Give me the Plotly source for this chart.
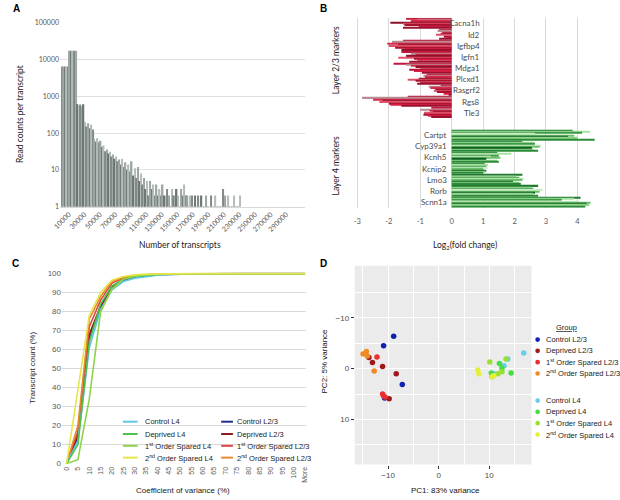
import plotly.graph_objects as go

W, H = 620, 500
def fx(p): return p / W
def fy(p): return 1 - p / H

# ---------------- Panel A data ----------------
read_counts = [
    6500, 6500, 6500, 6500, 6500,
    17500, 17500, 17500, 17500, 17500,
    620, 560, 600, 540, 610,
    200, 150, 185, 135, 170,
    125, 68, 58, 72, 55,
    62, 42, 46, 32, 36,
    28, 31, 23, 26, 20,
    23, 17, 19, 14, 20,
    12, 16, 10, 14, 9,
    17, 7, 11, 6, 12,
    5, 8, 4, 6, 3,
    5, 2, 5, 3, 4,
    2, 4, 2, 3, 2,
    4, 2, 2, 3, 2,
    1, 3, 2, 2, 3,
    2, 1, 3, 2, 4,
    2, 2, 1, 2, 2,
    1, 2, 1, 2, 1,
    2, 1, 1, 2, 1,
    1, 2, 1, 1, 2,
    1, 1, 1, 1, 3,
    2, 1, 2, 1, 1,
    1, 2, 1, 1, 1, 2,
]
transcripts_per_bar = 2000
a_x_ticks = [10000, 30000, 50000, 70000, 90000, 110000, 130000, 150000,
             170000, 190000, 210000, 230000, 250000, 270000, 290000]
a_x_labels = ["10000", "30000", "50000", "70000", "90000", "110000", "130000", "150000",
              "170000", "190000", "210000", "230000", "250000", "270000", "290000"]
a_y_ticks = [1, 10, 100, 1000, 10000, 100000]
a_y_labels = ["1", "10", "100", "1000", "10000", "100000"]

# ---------------- Panel B data ----------------
genes = ["Cacna1h", "Id2", "Igfbp4", "Igfn1", "Mdga1", "Plcxd1", "Rasgrf2", "Rgs8", "Tle3",
         "Cartpt", "Cyp39a1", "Kcnh5", "Kcnip2", "Lmo3", "Rorb", "Scnn1a"]
gene_layer = ["L2/3"] * 9 + ["L4"] * 7
log2_fold_change = [
    [-1.45, -1.10, -1.30, -1.95, -1.55, -1.50, -1.05, -1.55],  # Cacna1h
    [-0.40, -0.45, -0.30, -0.35, -0.50, -0.25, -0.15, -0.40],  # Id2
    [-1.55, -1.90, -2.05, -1.70, -2.00, -1.80, -1.50, -1.60],  # Igfbp4
    [-1.60, -1.30, -1.15, -1.45, -1.70, -1.20, -1.10, -1.35],  # Igfn1
    [-1.85, -1.45, -1.30, -1.15, -1.00, -1.35, -1.20, -0.95],  # Mdga1
    [-0.80, -0.90, -0.85, -1.05, -1.40, -1.15, -1.00, -1.10],  # Plcxd1
    [-0.35, -0.73, -0.68, -0.52, -0.57, -0.47, -0.26, -0.10],  # Rasgrf2
    [-1.40, -2.85, -2.50, -2.20, -2.30, -2.00, -1.95, -1.60],  # Rgs8
    [-0.65, -1.00, -0.70, -0.60, -0.88, -0.90, -0.75, -0.65],  # Tle3
    [3.85, 4.40, 4.15, 2.65, 3.90, 3.70, 4.00, 4.55],          # Cartpt
    [2.25, 2.60, 2.65, 2.85, 2.80, 2.55, 2.60, 2.75],          # Cyp39a1
    [1.45, 1.90, 1.50, 1.25, 1.55, 1.10, 1.45, 1.50],          # Kcnh5
    [1.05, 1.15, 1.10, 1.15, 1.00, 1.10, 1.08, 1.00],          # Kcnip2
    [2.25, 2.05, 2.15, 2.30, 2.25, 1.95, 2.15, 2.20],          # Lmo3
    [2.75, 2.55, 2.60, 2.90, 2.80, 2.65, 2.60, 2.75],          # Rorb
    [4.10, 3.90, 3.50, 4.05, 4.42, 4.30, 4.38, 4.25],          # Scnn1a
]
b_x_ticks = [-3, -2, -1, 0, 1, 2, 3, 4]
b_x_labels = ["-3", "-2", "-1", "0", "1", "2", "3", "4"]

# ---------------- Panel C data ----------------
cv_bins = ["0", "5", "10", "15", "20", "25", "30", "35", "40", "45", "50", "55",
           "60", "65", "70", "75", "80", "85", "90", "95", "100", "More"]
c_control_l4 = [0, 12, 61, 81, 91.5, 95.8, 97.6, 98.6, 99.2, 99.5, 99.7, 99.8, 99.88, 99.93, 99.96, 99.98, 99.99, 100, 100, 100, 100, 100]
c_deprived_l4 = [0, 10, 64, 84, 93.5, 97, 98.5, 99.2, 99.6, 99.8, 99.9, 99.95, 99.97, 99.98, 99.99, 100, 100, 100, 100, 100, 100, 100]
c_first_l4 = [0, 2, 34, 80, 92, 97, 98.6, 99.3, 99.6, 99.8, 99.9, 99.95, 99.97, 99.98, 99.99, 100, 100, 100, 100, 100, 100, 100]
c_second_l4 = [0, 38, 78, 90, 96.5, 98.5, 99.3, 99.7, 99.85, 99.92, 99.96, 99.98, 99.99, 100, 100, 100, 100, 100, 100, 100, 100, 100]
c_control_l23 = [0, 14, 66, 82, 93, 96.5, 98.2, 99.0, 99.4, 99.6, 99.75, 99.85, 99.9, 99.94, 99.97, 99.98, 99.99, 100, 100, 100, 100, 100]
c_deprived_l23 = [0, 15, 68, 83, 93, 96.8, 98.4, 99.1, 99.5, 99.7, 99.8, 99.88, 99.92, 99.95, 99.97, 99.98, 99.99, 100, 100, 100, 100, 100]
c_first_l23 = [0, 17, 72, 86, 95, 97.5, 98.8, 99.4, 99.7, 99.85, 99.9, 99.95, 99.97, 99.98, 99.99, 100, 100, 100, 100, 100, 100, 100]
c_second_l23 = [0, 20, 76, 88, 96, 98, 99, 99.5, 99.8, 99.9, 99.95, 99.97, 99.98, 99.99, 100, 100, 100, 100, 100, 100, 100, 100]
c_y_ticks = [0, 10, 20, 30, 40, 50, 60, 70, 80, 90, 100]

# ---------------- Panel D data ----------------
d_control_l23_pc1 = [-8.9, -10.9, -7.2, -10.7]
d_control_l23_pc2 = [-6.4, -4.5, 3.1, 5.8]
d_deprived_l23_pc1 = [-13.8, -13.1, -11.1, -8.4, -9.8]
d_deprived_l23_pc2 = [-2.2, -1.2, -0.45, 1.0, 5.95]
d_first_l23_pc1 = [-12.2, -11.1, -10.9, -10.6]
d_first_l23_pc2 = [-2.3, 5.0, 5.4, 5.6]
d_second_l23_pc1 = [-14.95, -14.3, -14.1, -12.75]
d_second_l23_pc2 = [-2.9, -3.4, -2.5, 0.45]
d_control_l4_pc1 = [16.8, 13.65, 12.9, 10.9]
d_control_l4_pc2 = [-3.1, -1.9, -0.6, 1.0]
d_deprived_l4_pc1 = [12.0, 12.5, 14.3, 10.4, 10.5]
d_deprived_l4_pc2 = [-1.0, -0.15, 0.85, 0.85, 1.6]
d_first_l4_pc1 = [10.1, 11.7, 12.5, 13.3]
d_first_l4_pc2 = [-1.3, 1.0, 0.6, -1.9]
d_second_l4_pc1 = [7.7, 7.96, 10.5, 10.9]
d_second_l4_pc2 = [0.25, 1.0, 1.6, 1.4]
d_ticks = [-10, 0, 10]
d_tick_labels = ["\u221210", "0", "10"]
d_minor_ticks = [-15, -5, 5, 15]

# ---------------- Styles ----------------
FONT_AB = "Lato"
FONT_CD = "Liberation Sans"
GRAY_TXT = "#595959"
a_grays = ["#7f8986", "#9ca5a1", "#6c7572", "#b4bcb9"]
red_shades = ["#c4163a", "#b88c92", "#d62a4c", "#8e0f28", "#e0506a", "#a8122f", "#d81e44", "#9a1230"]
green_shades = ["#1f7a2f", "#a6e29f", "#3c9a45", "#cdeec8", "#6cc06a", "#0f5e22", "#8fd488", "#2b8a38"]

fig = go.Figure()

# Panel A bars
a_x = [transcripts_per_bar * i + transcripts_per_bar / 2 for i in range(len(read_counts))]
fig.add_trace(go.Bar(
    x=a_x, y=read_counts, width=transcripts_per_bar * 0.9,
    marker=dict(color=[a_grays[i % len(a_grays)] for i in range(len(read_counts))], line=dict(width=0)),
    xaxis="x", yaxis="y", showlegend=False, name="Read counts"))

# Panel B bars
slots = []
s = 0
for i in range(len(genes)):
    if i > 0 and gene_layer[i] != gene_layer[i - 1]:
        s += 1
    slots.append(s)
    s += 1
n_series = len(log2_fold_change[0])
for j in range(n_series):
    fig.add_trace(go.Bar(
        x=[row[j] for row in log2_fold_change], y=slots, orientation="h",
        marker=dict(color=[red_shades[j] if l == "L2/3" else green_shades[j] for l in gene_layer],
                    line=dict(width=0)),
        xaxis="x2", yaxis="y2", showlegend=False, name="series %d" % (j + 1)))

# Panel C lines
c_series = [
    ("Control L2/3", c_control_l23, "#1f2e8c"),
    ("Deprived L2/3", c_deprived_l23, "#8b1c1c"),
    ("1<sup>st</sup> Order Spared L2/3", c_first_l23, "#e04545"),
    ("2<sup>nd</sup> Order Spared L2/3", c_second_l23, "#e8892e"),
    ("Control L4", c_control_l4, "#5ec8e5"),
    ("Deprived L4", c_deprived_l4, "#4cc24c"),
    ("1<sup>st</sup> Order Spared L4", c_first_l4, "#8ed44a"),
    ("2<sup>nd</sup> Order Spared L4", c_second_l4, "#e6e64a"),
]
c_x = list(range(len(cv_bins)))
for name, vals, col in c_series:
    fig.add_trace(go.Scatter(x=c_x, y=vals, mode="lines", line=dict(color=col, width=1.6),
                             xaxis="x3", yaxis="y3", showlegend=False, name=name))

# Panel D points
d_series = [
    ("Control L2/3", d_control_l23_pc1, d_control_l23_pc2, "#1020b0"),
    ("Deprived L2/3", d_deprived_l23_pc1, d_deprived_l23_pc2, "#a01818"),
    ("1<sup>st</sup> Order Spared L2/3", d_first_l23_pc1, d_first_l23_pc2, "#e83030"),
    ("2<sup>nd</sup> Order Spared L2/3", d_second_l23_pc1, d_second_l23_pc2, "#f08a24"),
    ("Control L4", d_control_l4_pc1, d_control_l4_pc2, "#66ccf0"),
    ("Deprived L4", d_deprived_l4_pc1, d_deprived_l4_pc2, "#44dd44"),
    ("1<sup>st</sup> Order Spared L4", d_first_l4_pc1, d_first_l4_pc2, "#99e033"),
    ("2<sup>nd</sup> Order Spared L4", d_second_l4_pc1, d_second_l4_pc2, "#e5f03a"),
]
for name, xs, ys, col in d_series:
    fig.add_trace(go.Scatter(x=xs, y=ys, mode="markers", marker=dict(color=col, size=5.5, line=dict(width=0)),
                             xaxis="x4", yaxis="y4", showlegend=False, name=name))

annotations = []
shapes = []

def ann(text, x, y, size=9, color="#222", angle=0, xanchor="center", yanchor="middle", family=FONT_AB,
        xref="paper", yref="paper", bold=False):
    annotations.append(dict(text=("<b>%s</b>" % text) if bold else text, x=x, y=y, xref=xref, yref=yref,
                            showarrow=False, textangle=angle, xanchor=xanchor, yanchor=yanchor,
                            font=dict(size=size, color=color, family=family)))

# panel letters
ann("A", fx(3), fy(5), size=10, color="#000", xanchor="left", family=FONT_CD, bold=True)
ann("B", fx(316), fy(5), size=10, color="#000", xanchor="left", family=FONT_CD, bold=True)
ann("C", fx(2), fy(264), size=10, color="#000", xanchor="left", family=FONT_CD, bold=True)
ann("D", fx(316), fy(264), size=10, color="#000", xanchor="left", family=FONT_CD, bold=True)

# axis titles
ann("Read counts per transcript", fx(12), fy(112), size=8.5, angle=-90)
ann("Number of transcripts", fx(175), fy(245), size=8.5)
ann("Log<sub>2</sub>(fold change)", fx(465), fy(245), size=8.5)
ann("Layer 2/3 markers", fx(334), fy(57), size=8.5, angle=-90)
ann("Layer 4 markers", fx(334), fy(165), size=8.5, angle=-90)
ann("Transcript count (%)", fx(25), fy(370), size=8, angle=-90, family=FONT_CD)
ann("Coefficient of variance (%)", fx(178), fy(494), size=8, family=FONT_CD)
ann("PC2: 5% variance", fx(322), fy(363), size=8, angle=-90, family=FONT_CD, color="#111")
ann("PC1: 83% variance", fx(445), fy(494), size=8, family=FONT_CD, color="#111")

# gene labels in panel B
for g, l, sl in zip(genes, gene_layer, slots):
    ann(g, 0.98 if l == "L2/3" else -0.08, sl, size=8, color="#4d4d4d", xanchor="right",
        xref="x2", yref="y2")

# Panel C manual legend (two columns)
c_leg_order = [4, 0, 5, 1, 6, 2, 7, 3]
c_rows_y = [424.5, 437, 449, 461]
c_cols = [(117, 132, 137), (217, 229, 231)]
for k, idx in enumerate(c_leg_order):
    name, _, col = c_series[idx]
    r, cidx = k // 2, k % 2
    x0, x1, xt = c_cols[cidx]
    shapes.append(dict(type="line", xref="paper", yref="paper", x0=fx(x0), x1=fx(x1),
                       y0=fy(c_rows_y[r]), y1=fy(c_rows_y[r]), line=dict(color=col, width=2)))
    ann(name, fx(xt), fy(c_rows_y[r]), size=7.5, color="#222", xanchor="left", family=FONT_CD)

# Panel D manual legend
ann("<u>Group</u>", fx(569), fy(329), size=7.5, color="#222", family=FONT_CD)
d_rows_y = [341, 352.5, 364, 375.5, 403, 414.5, 426, 437.5]
for k, (name, _, _, col) in enumerate(d_series):
    yy = d_rows_y[k]
    shapes.append(dict(type="circle", xref="paper", yref="paper",
                       x0=fx(536.8), x1=fx(541.6), y0=fy(yy + 2.4), y1=fy(yy - 2.4),
                       fillcolor=col, line=dict(width=0)))
    ann(name, fx(545.5), fy(yy), size=7.5, color="#222", xanchor="left", family=FONT_CD)

# Panel D gray background
shapes.append(dict(type="rect", xref="x4 domain", yref="y4 domain", x0=0, x1=1, y0=0, y1=1,
                   fillcolor="#ebebeb", line=dict(width=0), layer="below"))

fig.update_layout(
    width=W, height=H, margin=dict(l=0, r=0, t=0, b=0),
    paper_bgcolor="white", plot_bgcolor="white",
    barmode="group", bargap=0.06, bargroupgap=0,
    showlegend=False,
    annotations=annotations, shapes=shapes,
    xaxis=dict(domain=[fx(53), fx(302)], range=[-1266, 313924], anchor="y",
               tickmode="array", tickvals=a_x_ticks, ticktext=a_x_labels, tickangle=-45,
               tickfont=dict(size=7, color=GRAY_TXT, family=FONT_AB),
               showgrid=False, zeroline=False, showline=True, linecolor="#d9d9d9", linewidth=1, ticks=""),
    yaxis=dict(domain=[fy(206), fy(19)], type="log", range=[-0.004, 5.004], anchor="x",
               tickmode="array", tickvals=a_y_ticks, ticktext=a_y_labels,
               tickfont=dict(size=7, color=GRAY_TXT, family=FONT_AB),
               showgrid=True, gridcolor="#e0e0e0", gridwidth=1, zeroline=False, showline=False, ticks=""),
    xaxis2=dict(domain=[fx(349.3), fx(598.9)], range=[-3.2, 4.6], anchor="y2",
                tickmode="array", tickvals=b_x_ticks, ticktext=b_x_labels,
                tickfont=dict(size=7.5, color=GRAY_TXT, family=FONT_AB), ticklabelstandoff=8,
                showgrid=True, gridcolor="#d9d9d9", gridwidth=1, zeroline=False, showline=False, ticks=""),
    yaxis2=dict(domain=[fy(207), fy(14)], range=[16.5, -0.5], anchor="x2",
                showticklabels=False, showgrid=False, zeroline=False, showline=False, ticks=""),
    xaxis3=dict(domain=[fx(55), fx(303)], range=[-0.4, 21.05], anchor="y3",
                tickmode="array", tickvals=c_x, ticktext=cv_bins, tickangle=-90,
                tickfont=dict(size=7, color=GRAY_TXT, family=FONT_CD),
                showgrid=False, zeroline=False, showline=False, ticks=""),
    yaxis3=dict(domain=[fy(468), fy(273)], range=[-0.5, 100.5], anchor="x3",
                tickmode="array", tickvals=c_y_ticks,
                tickfont=dict(size=8, color=GRAY_TXT, family=FONT_CD),
                showgrid=True, gridcolor="#d9d9d9", gridwidth=1, zeroline=False, showline=False, ticks=""),
    xaxis4=dict(domain=[fx(353), fx(533)], range=[-16.6, 18.35], anchor="y4",
                tickmode="array", tickvals=d_ticks, ticktext=d_tick_labels,
                tickfont=dict(size=8, color="#4d4d4d", family=FONT_CD),
                showgrid=True, gridcolor="white", gridwidth=1.1, zeroline=False, showline=False,
                ticks="outside", ticklen=3, tickcolor="#333", tickwidth=1,
                minor=dict(tickmode="array", tickvals=d_minor_ticks, showgrid=True, gridcolor="white",
                           gridwidth=0.5, ticks="")),
    yaxis4=dict(domain=[fy(468), fy(266)], range=[18.9, -20.3], anchor="x4",
                tickmode="array", tickvals=d_ticks, ticktext=d_tick_labels,
                tickfont=dict(size=8, color="#4d4d4d", family=FONT_CD),
                showgrid=True, gridcolor="white", gridwidth=1.1, zeroline=False, showline=False,
                ticks="outside", ticklen=3, tickcolor="#333", tickwidth=1,
                minor=dict(tickmode="array", tickvals=d_minor_ticks, showgrid=True, gridcolor="white",
                           gridwidth=0.5, ticks="")),
)

fig.write_html("out.html", config={"displayModeBar": False},
               post_script="document.body.style.margin='0px';document.body.style.padding='0px';")
